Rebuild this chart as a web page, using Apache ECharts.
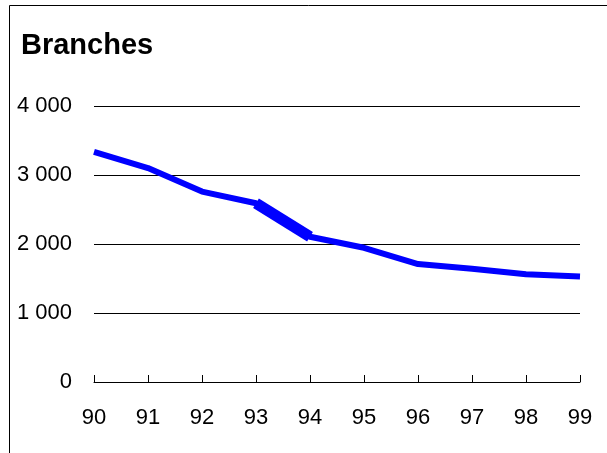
<!DOCTYPE html>
<html>
<head>
<meta charset="utf-8">
<script src="https://cdn.jsdelivr.net/npm/echarts@6/dist/echarts.min.js"></script>
<style>
  html, body { margin: 0; padding: 0; background: #fff; }
  #chart { width: 607px; height: 453px; }
</style>
</head>
<body>
<div id="chart"></div>
<script>
// Number of branches per year
const years = ['90', '91', '92', '93', '94', '95', '96', '97', '98', '99'];
const branches = [3335, 3100, 2760, 2590, 2105, 1945, 1710, 1640, 1562, 1530];
// The 93–94 stretch is drawn with a heavier stroke
const heavySegment = ['-', '-', '-', 2590, 2105, '-', '-', '-', '-', '-'];
const yTicks = [0, 1000, 2000, 3000, 4000];

const FONT = '"Liberation Sans", Arial, sans-serif';
const formatThousands = v => {
  const s = String(v);
  return s.length > 3 ? s.slice(0, -3) + ' ' + s.slice(-3) : s;
};

const chart = echarts.init(document.getElementById('chart'), null, { renderer: 'canvas' });
chart.setOption({
  backgroundColor: '#ffffff',
  animation: false,
  title: {
    text: 'Branches',
    left: 16,
    top: 26,
    textStyle: { fontFamily: FONT, fontWeight: 'bold', fontSize: 29, color: '#000' }
  },
  graphic: [
    { type: 'line', shape: { x1: 9.5, y1: 5.5, x2: 607, y2: 5.5 }, style: { stroke: '#000', lineWidth: 1 } },
    { type: 'line', shape: { x1: 9.5, y1: 5.5, x2: 9.5, y2: 453 }, style: { stroke: '#000', lineWidth: 1 } }
  ],
  grid: { left: 94, right: 27, top: 106, bottom: 71 },
  xAxis: {
    type: 'category',
    data: years,
    boundaryGap: false,
    axisLine: { lineStyle: { color: '#000', width: 1 } },
    axisTick: { show: true, inside: true, length: 7, lineStyle: { color: '#000' } },
    axisLabel: { fontFamily: FONT, fontSize: 22, color: '#000', margin: 25 },
    splitLine: { show: false }
  },
  yAxis: {
    type: 'value',
    min: yTicks[0],
    max: yTicks[yTicks.length - 1],
    interval: 1000,
    axisLine: { show: false },
    axisTick: { show: false },
    axisLabel: { fontFamily: FONT, fontSize: 22, color: '#000', margin: 22, formatter: formatThousands },
    splitLine: { show: true, lineStyle: { color: '#000', width: 1 } }
  },
  series: [
    {
      type: 'line',
      data: branches,
      symbol: 'none',
      lineStyle: { color: '#0000ff', width: 6 },
      z: 3
    },
    {
      type: 'line',
      data: heavySegment,
      symbol: 'none',
      connectNulls: false,
      lineStyle: { color: '#0000ff', width: 11, cap: 'butt' },
      z: 4
    }
  ]
});
</script>
</body>
</html>
